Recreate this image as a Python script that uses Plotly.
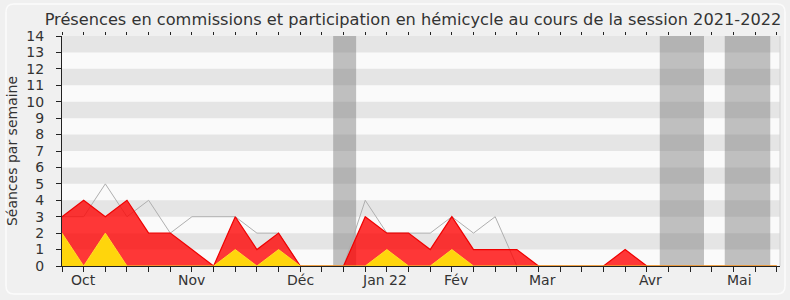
import plotly.graph_objects as go

weeks = list(range(34))
commission = [3, 4, 3, 4, 2, 2, 1, 0, 3, 1, 2, 0, 0, 0, 3, 2, 2, 1, 3, 1, 1, 1, 0,
              0, 0, 0, 1, 0, 0, 0, 0, 0, 0, 0]
hemicycle = [2, 0, 2, 0, 0, 0, 0, 0, 1, 0, 1, 0, 0, 0, 0, 1, 0, 0, 1, 0, 0, 0, 0,
             0, 0, 0, 0, 0, 0, 0, 0, 0, 0, 0]
mediane = [3, 3, 5, 3, 4, 2, 3, 3, 3, 2, 2, 0, 0, 0, 4, 2, 2, 2, 3, 2, 3, 0, 0,
           0, 0, 0, 0, 0, 0, 0, 0, 0, 0, 0]
vacances = [(12.52, 13.58), (27.6, 29.64), (30.6, 32.7)]
month_pos = [1, 6, 11, 14.9, 18.2, 22.2, 27.15, 31.26]
month_labels = ["Oct", "Nov", "Déc", "Jan 22", "Fév", "Mar", "Avr", "Mai"]

FONT = "DejaVu Sans"
fig = go.Figure()

fig.add_trace(go.Scatter(x=weeks, y=mediane, mode="lines",
                         line=dict(color="rgb(175,175,175)", width=1), hoverinfo="skip"))
fig.add_trace(go.Scatter(x=weeks, y=commission, mode="lines", fill="tozeroy",
                         fillcolor="rgba(255,0,0,0.78)",
                         line=dict(color="rgb(240,0,0)", width=1.2), hoverinfo="skip"))
fig.add_trace(go.Scatter(x=weeks, y=hemicycle, mode="lines", fill="tozeroy",
                         fillcolor="rgb(255,213,12)",
                         line=dict(color="rgb(255,220,40)", width=1), hoverinfo="skip"))
# invisible trace for top ticks
fig.add_trace(go.Scatter(x=[0, 33.15], y=[0, 0], xaxis="x2", mode="lines",
                         line=dict(width=0), hoverinfo="skip", showlegend=False))

shapes = []
for k in range(1, 14, 2):
    shapes.append(dict(type="rect", xref="paper", yref="y", x0=0, x1=1, y0=k, y1=k + 1,
                       fillcolor="#e5e5e5", line=dict(width=0), layer="below"))
for a, b in vacances:
    shapes.append(dict(type="rect", xref="x", yref="paper", x0=a, x1=b, y0=0, y1=1,
                       fillcolor="rgba(110,110,110,0.42)", line=dict(width=0), layer="below"))
# right border light line
shapes.append(dict(type="line", xref="paper", yref="paper", x0=1, x1=1, y0=0, y1=1,
                   line=dict(color="#d0d0d0", width=1)))
# outer rounded frame
W, H = 790.0, 300.0
ml, mr, mt, mb = 62, 10, 36, 34
pw, ph = W - ml - mr, H - mt - mb
def px(xp):
    return (xp - ml) / pw
def py(yp):
    return (H - mb - yp) / ph
x0, x1, y0, y1, r = 6, 785, 4, 294, 8
path = (f"M {px(x0 + r)} {py(y0)} L {px(x1 - r)} {py(y0)} "
        f"Q {px(x1)} {py(y0)} {px(x1)} {py(y0 + r)} L {px(x1)} {py(y1 - r)} "
        f"Q {px(x1)} {py(y1)} {px(x1 - r)} {py(y1)} L {px(x0 + r)} {py(y1)} "
        f"Q {px(x0)} {py(y1)} {px(x0)} {py(y1 - r)} L {px(x0)} {py(y0 + r)} "
        f"Q {px(x0)} {py(y0)} {px(x0 + r)} {py(y0)} Z")
shapes.append(dict(type="path", xref="paper", yref="paper", path=path,
                   line=dict(color="#fbfbfb", width=1.5), layer="below"))

fig.update_layout(
    width=790, height=300,
    margin=dict(l=ml, r=mr, t=mt, b=mb),
    paper_bgcolor="#f0f0f0", plot_bgcolor="#fafafa",
    showlegend=False,
    font=dict(family=FONT, size=14, color="#333333"),
    title=dict(text="Présences en commissions et participation en hémicycle au cours de la session 2021-2022",
               x=413 / 790, xanchor="center", xref="container", y=1 - 19 / 300, yanchor="middle",
               yref="container",
               font=dict(family=FONT, size=16.2, color="#333333")),
    shapes=shapes,
    xaxis=dict(range=[0, 33.15], showgrid=False, zeroline=False,
               tickmode="array", tickvals=weeks, ticktext=[""] * len(weeks),
               ticks="outside", ticklen=5, tickcolor="#222222",
               showline=True, linecolor="#222222", linewidth=1),
    xaxis2=dict(range=[0, 33.15], overlaying="x", side="top", showgrid=False, zeroline=False,
                tickmode="array", tickvals=weeks, ticktext=[""] * len(weeks),
                ticks="outside", ticklen=3, tickcolor="#222222", showline=False),
    yaxis=dict(range=[0, 14], dtick=1, showgrid=False, zeroline=False,
               ticks="outside", ticklen=5, tickcolor="#222222",
               showline=True, linecolor="#222222", linewidth=1,
               ticklabelstandoff=9,
               title=dict(text="Séances par semaine", font=dict(size=14), standoff=5),
               tickfont=dict(size=14)),
)
for pos, lab in zip(month_pos, month_labels):
    fig.add_annotation(x=pos, y=0, xref="x", yref="y", text=lab, showarrow=False,
                       yanchor="top", yshift=-4, font=dict(size=14, color="#333333"))

fig.write_html("out.html")
